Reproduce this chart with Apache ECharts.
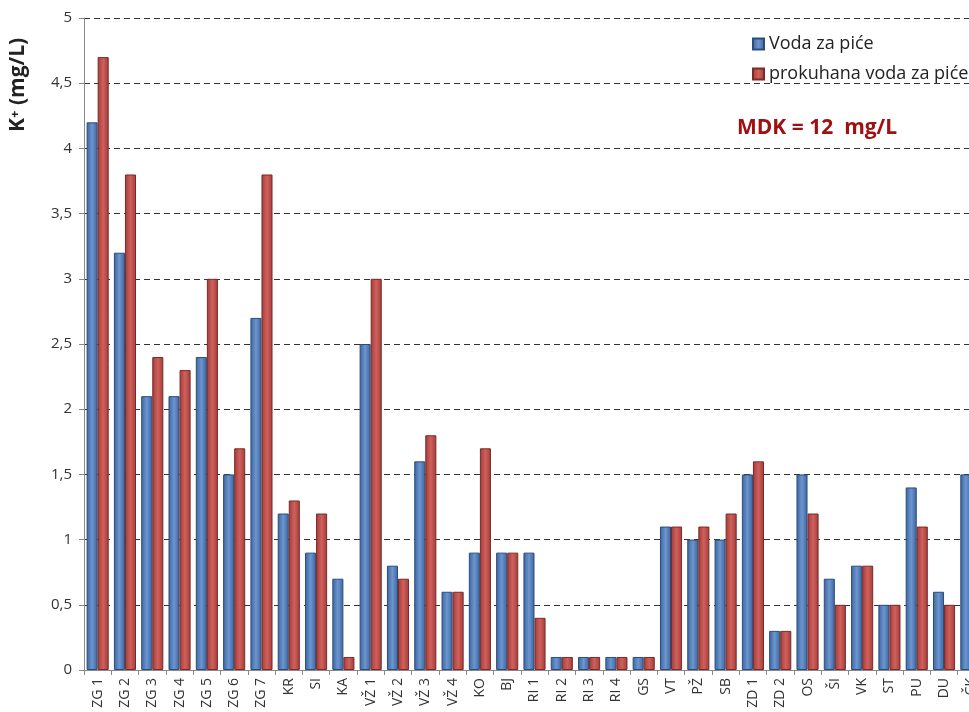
<!DOCTYPE html>
<html>
<head>
<meta charset="utf-8">
<script src="https://cdn.jsdelivr.net/npm/echarts@6/dist/echarts.min.js"></script>
<style>
  html, body { margin: 0; padding: 0; overflow: hidden; background: #fff; }
  #chart { width: 990px; height: 712px; }
</style>
</head>
<body>
<div id="chart"></div>
<script>
  // sampling sites
  const sites = ['ZG 1', 'ZG 2', 'ZG 3', 'ZG 4', 'ZG 5', 'ZG 6', 'ZG 7', 'KR', 'SI', 'KA',
    'VŽ 1', 'VŽ 2', 'VŽ 3', 'VŽ 4', 'KO', 'BJ', 'RI 1', 'RI 2', 'RI 3', 'RI 4', 'GS',
    'VT', 'PŽ', 'SB', 'ZD 1', 'ZD 2', 'OS', 'ŠI', 'VK', 'ST', 'PU', 'DU', 'ČK'];
  const vodaZaPice = [4.2, 3.2, 2.1, 2.1, 2.4, 1.5, 2.7, 1.2, 0.9, 0.7,
    2.5, 0.8, 1.6, 0.6, 0.9, 0.9, 0.9, 0.1, 0.1, 0.1, 0.1,
    1.1, 1.0, 1.0, 1.5, 0.3, 1.5, 0.7, 0.8, 0.5, 1.4, 0.6, 1.5];
  const prokuhana = [4.7, 3.8, 2.4, 2.3, 3.0, 1.7, 3.8, 1.3, 1.2, 0.1,
    3.0, 0.7, 1.8, 0.6, 1.7, 0.9, 0.4, 0.1, 0.1, 0.1, 0.1,
    1.1, 1.1, 1.2, 1.6, 0.3, 1.2, 0.5, 0.8, 0.5, 1.1, 0.5, 1.6];
  const seriesNames = ['Voda za piće', 'prokuhana voda za piće'];

  const font = '"Open Sans", "Noto Sans", sans-serif';

  function barFill(dark, light) {
    return new echarts.graphic.LinearGradient(0, 0, 1, 0, [
      { offset: 0, color: dark },
      { offset: 0.5, color: light },
      { offset: 1, color: dark }
    ]);
  }

  const myChart = echarts.init(document.getElementById('chart'));
  const option = {
    animation: false,
    color: ['#4F81BD', '#C0504D'],
    textStyle: { fontFamily: font },
    grid: { left: 84, right: 5, top: 18, bottom: 42 },
    legend: {
      orient: 'vertical',
      left: 747,
      top: 30,
      icon: 'rect',
      itemWidth: 11,
      itemHeight: 11,
      itemGap: 12,
      textStyle: { fontSize: 18, color: '#222', fontFamily: font },
      data: seriesNames
    },
    graphic: [
      {
        type: 'text',
        x: 8,
        y: 132,
        rotation: Math.PI / 2,
        style: {
          text: 'K⁺ (mg/L)',
          fontSize: 21,
          fontWeight: 'bold',
          fill: '#222',
          fontFamily: font
        }
      },
      {
        type: 'text',
        left: 737,
        top: 118,
        style: {
          text: 'MDK = 12  mg/L',
          fontSize: 21,
          fontWeight: 'bold',
          fill: '#A01010',
          fontFamily: font
        }
      }
    ],
    xAxis: {
      type: 'category',
      data: sites,
      axisLine: { lineStyle: { color: '#888', width: 1 } },
      axisTick: { show: true, alignWithLabel: false, length: 5, lineStyle: { color: '#888' } },
      axisLabel: { rotate: 90, fontSize: 14, color: '#333', margin: 8, interval: 0 }
    },
    yAxis: {
      type: 'value',
      min: 0,
      max: 5,
      interval: 0.5,
      axisLine: { show: true, lineStyle: { color: '#888' } },
      axisTick: { show: true, length: 5, lineStyle: { color: '#888' } },
      axisLabel: {
        fontSize: 15,
        color: '#333',
        margin: 12,
        formatter: v => String(v).replace('.', ',')
      },
      splitLine: { lineStyle: { type: [6, 4], color: '#333', width: 1 } }
    },
    series: [
      {
        name: seriesNames[0],
        type: 'bar',
        data: vodaZaPice,
        barGap: '0%',
        barCategoryGap: '19%',
        itemStyle: { color: barFill('#3A659E', '#6D95CF'), borderColor: '#2C4D7A', borderWidth: 1 }
      },
      {
        name: seriesNames[1],
        type: 'bar',
        data: prokuhana,
        itemStyle: { color: barFill('#A03C39', '#D0605C'), borderColor: '#7A2B28', borderWidth: 1 }
      }
    ]
  };
  myChart.setOption(option);
</script>
</body>
</html>
